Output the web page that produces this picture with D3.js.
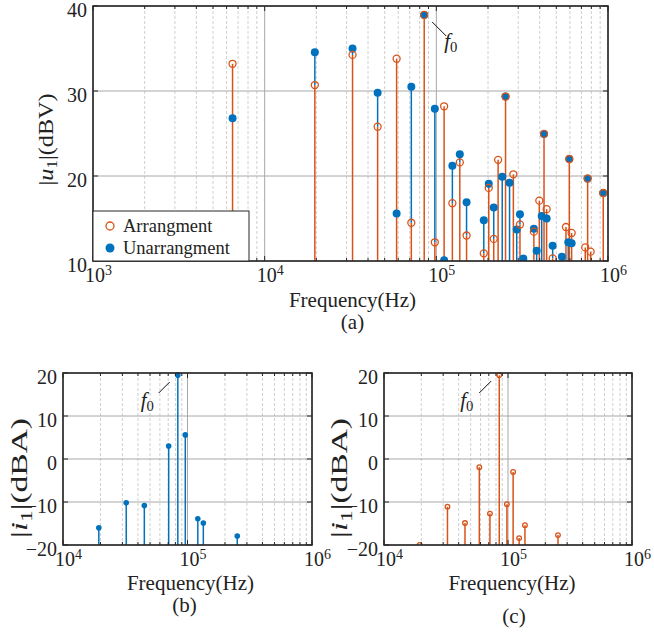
<!DOCTYPE html>
<html>
<head>
<meta charset="utf-8">
<script src="https://cdn.jsdelivr.net/npm/d3@7"></script>
<style>
  body { margin: 0; background: #fff; }
</style>
</head>
<body>
<div id="chart"></div>
<script>
// ---------------- data ----------------
// (a) output voltage spectrum, frequency in Hz, |u1| in dBV (null = under the 10 dBV floor)
const freqA = [6500, 19600, 32500, 45500, 58700, 71500, 85000, 98000, 111000, 124000,
  137000, 150000, 189000, 202000, 216000, 229000, 242000, 253000, 267000, 281000,
  294000, 307000, 321000, 370000, 384000, 398000, 411000, 424000, 439000, 476000,
  539000, 569000, 587000, 595000, 614000, 737000, 761000, 792000, 938000];
const arrangA = [33.2, 30.7, 34.25, 25.8, 33.8, 14.5, 38.95, 12.2, 28.2, 16.8,
  21.6, 13.0, 10.9, 18.6, 12.6, 21.9, null, 29.35, null, 20.2,
  null, 14.3, null, 13.45, null, 17.1, null, 24.95, 16.1, 10.3,
  null, 14.0, null, 22.0, 13.3, 11.6, 19.7, 11.1, 18.0];
const unarrangA = [26.8, 34.55, 35.0, 29.8, 15.6, 30.5, 38.95, 27.9, 10.1, 21.2,
  22.55, 16.9, 14.8, 19.1, 16.3, null, 19.9, 29.35, 19.2, null,
  13.7, 15.5, 10.3, 13.8, 11.2, null, 15.3, 24.95, 15.0, 11.8,
  10.5, null, 12.2, 22.0, 12.1, null, 19.7, null, 18.0];

// (b) input current spectrum, unarranged, |i1| in dBA
const freqB = [19400, 32200, 45000, 70600, 83600, 96000, 121000, 134000, 251000];
const unarrangB = [-16.0, -10.2, -10.8, 3.0, 19.5, 5.6, -13.9, -14.9, -17.9];

// (c) input current spectrum, arranged, |i1| in dBA
const freqC = [19400, 32500, 45000, 58700, 71500, 85000, 98000, 110000, 123000, 137000, 253000];
const arrangC = [-20.0, -11.1, -14.9, -1.9, -12.7, 19.5, -10.5, -3.0, -18.4, -15.4, -17.7];

const legendLabels = ["Arrangment", "Unarrangment"];
const f0Freq = 85000;

// ---------------- setup ----------------
const W = 654, H = 632;
const font = "'Liberation Serif', 'Times New Roman', serif";
const orange = "#D95319", blue = "#0072BD", ink = "#222";

const svg = d3.select("#chart").append("svg")
  .attr("width", W).attr("height", H)
  .style("font-family", font);

// Build one log-frequency stem panel
function panel(o) {
  const g = svg.append("g").attr("transform", `translate(${o.left}, ${o.top})`);
  const x = d3.scaleLog().domain(o.xDomain).range([0, o.width]);
  const y = d3.scaleLinear().domain(o.yDomain).range([o.height, 0]);
  const e0 = Math.round(Math.log10(o.xDomain[0])), e1 = Math.round(Math.log10(o.xDomain[1]));
  const decades = d3.range(e0, e1 + 1).map(e => Math.pow(10, e));
  const minors = [];
  for (let e = e0; e < e1; e++) for (let k = 2; k <= 9; k++) minors.push(k * Math.pow(10, e));

  // grid
  g.append("g").selectAll("line").data(minors).join("line")
    .attr("x1", d => x(d)).attr("x2", d => x(d)).attr("y1", 0).attr("y2", o.height)
    .attr("stroke", "#c4c4c4").attr("stroke-width", 0.8).attr("stroke-dasharray", "3,2");
  g.append("g").selectAll("line").data(decades).join("line")
    .attr("x1", d => x(d)).attr("x2", d => x(d)).attr("y1", 0).attr("y2", o.height)
    .attr("stroke", "#a8a8a8").attr("stroke-width", 1);
  g.append("g").selectAll("line").data(o.yTicks).join("line")
    .attr("x1", 0).attr("x2", o.width).attr("y1", d => y(d)).attr("y2", d => y(d))
    .attr("stroke", "#a8a8a8").attr("stroke-width", 1);

  // clip
  const cid = "clip" + o.id;
  g.append("clipPath").attr("id", cid).append("rect")
    .attr("x", -6).attr("y", -6).attr("width", o.width + 12).attr("height", o.height + 6);
  const plot = g.append("g").attr("clip-path", `url(#${cid})`);

  // stems first (a series drawn underneath only shows the part above the one on top)
  const lo = o.yDomain[0];
  o.series.forEach(s => {
    const pts = s.freq.map((f, i) => ({
      f, v: s.values[i],
      b: s.base && s.base[i] !== null ? Math.max(s.base[i], lo) : lo
    })).filter(p => p.v !== null && p.v > p.b);
    plot.append("g").selectAll("line").data(pts).join("line")
      .attr("x1", p => x(p.f)).attr("x2", p => x(p.f))
      .attr("y1", p => y(p.b)).attr("y2", p => y(p.v))
      .attr("stroke", s.color).attr("stroke-width", o.stemWidth);
  });
  o.series.forEach(s => {
    const pts = s.freq.map((f, i) => ({f, v: s.values[i]})).filter(p => p.v !== null);
    plot.append("g").selectAll("circle").data(pts).join("circle")
      .attr("cx", p => x(p.f)).attr("cy", p => y(p.v))
      .attr("r", s.filled ? o.r : o.r - 0.5)
      .attr("fill", s.filled ? s.color : "none")
      .attr("stroke", s.color).attr("stroke-width", s.filled ? 0 : 1.3);
  });

  // frame
  g.append("rect").attr("width", o.width).attr("height", o.height)
    .attr("fill", "none").attr("stroke", "#262626").attr("stroke-width", 1.6);

  // inward ticks
  const tk = g.append("g").attr("stroke", "#262626").attr("stroke-width", 1);
  o.yTicks.forEach(d => {
    tk.append("line").attr("x1", 0).attr("x2", 5).attr("y1", y(d)).attr("y2", y(d));
    tk.append("line").attr("x1", o.width).attr("x2", o.width - 5).attr("y1", y(d)).attr("y2", y(d));
  });
  decades.forEach(d => {
    tk.append("line").attr("x1", x(d)).attr("x2", x(d)).attr("y1", o.height).attr("y2", o.height - 5);
    tk.append("line").attr("x1", x(d)).attr("x2", x(d)).attr("y1", 0).attr("y2", 5);
  });
  minors.forEach(d => {
    tk.append("line").attr("x1", x(d)).attr("x2", x(d)).attr("y1", o.height).attr("y2", o.height - 3);
    tk.append("line").attr("x1", x(d)).attr("x2", x(d)).attr("y1", 0).attr("y2", 3);
  });

  // x axis labels: 10^n
  const xa = g.append("g").attr("transform", `translate(0, ${o.height})`)
    .call(d3.axisBottom(x).tickValues(decades).tickSize(0).tickPadding(o.xPad).tickFormat(() => ""));
  xa.select(".domain").remove();
  xa.selectAll(".tick text").each(function(d) {
    const t = d3.select(this).attr("font-family", font).attr("font-size", o.fs).attr("fill", ink)
      .attr("dx", "0.25em");
    t.append("tspan").text("10");
    t.append("tspan").attr("font-size", o.fs * 0.7).attr("dy", "-0.55em")
      .text(Math.round(Math.log10(d)));
  });

  // y axis labels
  const ya = g.append("g")
    .call(d3.axisLeft(y).tickValues(o.yTicks).tickSize(0).tickPadding(o.yPad).tickFormat(d3.format("d")));
  ya.select(".domain").remove();
  ya.selectAll(".tick text").attr("font-family", font).attr("font-size", o.fs).attr("fill", ink)
    .attr("dy", "0.5em");

  // axis titles
  g.append("text").attr("x", o.width / 2 + o.xTitleDx).attr("y", o.height + o.xTitleDy)
    .attr("text-anchor", "middle").attr("font-size", o.tfs).attr("fill", ink).text("Frequency(Hz)");
  g.append("text").attr("x", o.width / 2 + o.tagDx).attr("y", o.height + o.tagDy)
    .attr("text-anchor", "middle").attr("font-size", o.tfs).attr("fill", ink).text(o.tag);

  const yl = g.append("text")
    .attr("transform", `translate(${o.yTitleX}, ${o.height / 2 + o.yTitleDy}) rotate(-90)`)
    .attr("text-anchor", "middle").attr("font-size", o.yfs).attr("fill", ink)
    .attr("textLength", o.yLen).attr("lengthAdjust", "spacingAndGlyphs");
  yl.append("tspan").text("|");
  yl.append("tspan").attr("font-style", "italic").text(o.yVar);
  yl.append("tspan").attr("font-size", o.yfs * 0.7).attr("dy", "0.3em").text("1");
  yl.append("tspan").attr("dy", "-0.21em").text("|(" + o.yUnit + ")");

  // f0 marker
  const fx = x(f0Freq), fy = y(o.yDomain[1]);
  g.append("line")
    .attr("x1", fx + o.f0.x1).attr("y1", fy + o.f0.y1)
    .attr("x2", fx + o.f0.x2).attr("y2", fy + o.f0.y2)
    .attr("stroke", "#111").attr("stroke-width", 1);
  const ft = g.append("text").attr("x", fx + o.f0.tx).attr("y", fy + o.f0.ty)
    .attr("font-size", o.tfs).attr("fill", ink);
  ft.append("tspan").attr("font-style", "italic").text("f");
  ft.append("tspan").attr("font-size", o.tfs * 0.7).attr("dy", "0.3em").text("0");

  return {g, x, y};
}

// ---------------- (a) ----------------
const pa = panel({
  id: "a", left: 93, top: 6, width: 515, height: 255,
  xDomain: [1e3, 1e6], yDomain: [10, 40], yTicks: [10, 20, 30, 40],
  fs: 20, tfs: 21, yfs: 20, yLen: 92, xPad: 7, yPad: 6, r: 4,
  stemWidth: 1.5,
  xTitleDx: 2, xTitleDy: 46, tagDx: 2, tagDy: 68,
  yTitleX: -40, yTitleDy: 6, yVar: "u", yUnit: "dBV", tag: "(a)",
  f0: {x1: 8, y1: 16, x2: 22, y2: 30, tx: 20, ty: 42},
  series: [
    {freq: freqA, values: unarrangA, base: arrangA, color: blue, filled: true},
    {freq: freqA, values: arrangA, color: orange, filled: false}
  ]
});

// legend for (a)
const lg = pa.g.append("g").attr("transform", `translate(0, ${205})`);
lg.append("rect").attr("width", 156).attr("height", 50)
  .attr("fill", "#fff").attr("stroke", "#262626").attr("stroke-width", 1);
legendLabels.forEach((lab, i) => {
  const cy = 15 + i * 22;
  lg.append("circle").attr("cx", 17).attr("cy", cy).attr("r", i === 0 ? 4 : 4.5)
    .attr("fill", i === 0 ? "none" : blue)
    .attr("stroke", i === 0 ? orange : "none").attr("stroke-width", 1.3);
  lg.append("text").attr("x", 30).attr("y", cy + 6).attr("font-size", 18.5).attr("fill", ink).text(lab);
});

// ---------------- (b) ----------------
panel({
  id: "b", left: 63, top: 373, width: 249, height: 172,
  xDomain: [1e4, 1e6], yDomain: [-20, 20], yTicks: [-20, -10, 0, 10, 20],
  fs: 20, tfs: 21, yfs: 24, yLen: 120, xPad: 7, yPad: 6, r: 2.8,
  stemWidth: 1.5,
  xTitleDx: 3, xTitleDy: 45, tagDx: -3, tagDy: 67,
  yTitleX: -36, yTitleDy: 19, yVar: "i", yUnit: "dBA", tag: "(b)",
  f0: {x1: -9, y1: 9, x2: -20, y2: 20, tx: -38, ty: 34},
  series: [{freq: freqB, values: unarrangB, color: blue, filled: true}]
});

// ---------------- (c) ----------------
panel({
  id: "c", left: 384, top: 373, width: 248, height: 172,
  xDomain: [1e4, 1e6], yDomain: [-20, 20], yTicks: [-20, -10, 0, 10, 20],
  fs: 20, tfs: 21, yfs: 24, yLen: 120, xPad: 7, yPad: 6, r: 2.8,
  stemWidth: 1.5,
  xTitleDx: 4, xTitleDy: 45, tagDx: 6, tagDy: 78,
  yTitleX: -37, yTitleDy: 19, yVar: "i", yUnit: "dBA", tag: "(c)",
  f0: {x1: -8, y1: 8, x2: -20, y2: 20, tx: -39, ty: 34},
  series: [{freq: freqC, values: arrangC, color: orange, filled: false}]
});
</script>
</body>
</html>
